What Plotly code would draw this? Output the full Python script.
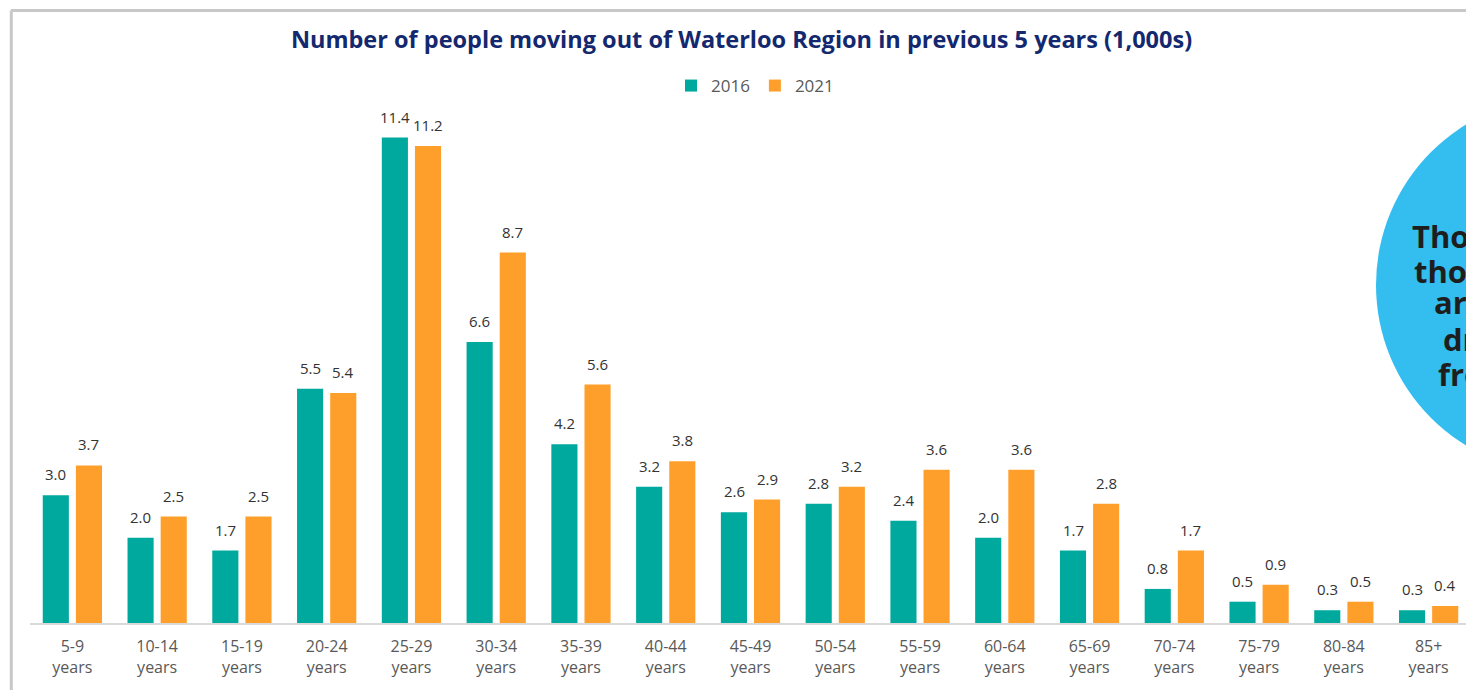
import plotly.graph_objects as go

categories = ["5-9<br>years", "10-14<br>years", "15-19<br>years", "20-24<br>years", "25-29<br>years",
              "30-34<br>years", "35-39<br>years", "40-44<br>years", "45-49<br>years", "50-54<br>years",
              "55-59<br>years", "60-64<br>years", "65-69<br>years", "70-74<br>years", "75-79<br>years",
              "80-84<br>years", "85+<br>years"]
values_2016 = [3.0, 2.0, 1.7, 5.5, 11.4, 6.6, 4.2, 3.2, 2.6, 2.8, 2.4, 2.0, 1.7, 0.8, 0.5, 0.3, 0.3]
values_2021 = [3.7, 2.5, 2.5, 5.4, 11.2, 8.7, 5.6, 3.8, 2.9, 3.2, 3.6, 3.6, 2.8, 1.7, 0.9, 0.5, 0.4]
callout_lines = ["Thos", "thos", "are", "dr", "fro"]

# page has an 8px body margin: work in figure pixel coordinates
W, H = 1466, 682
L, R, T, B = 22, 1463, 104, 615

def px(x):
    return (x - L) / (R - L)

def py(y):
    return (B - y) / (B - T)

FONT = "Open Sans"
TEAL = "#00A99D"
ORANGE = "#FF9F2B"

fig = go.Figure()
fig.add_trace(go.Bar(name="2016", x=categories, y=values_2016, marker_color=TEAL, marker_line_width=0))
fig.add_trace(go.Bar(name="2021", x=categories, y=values_2021, marker_color=ORANGE, marker_line_width=0))

fig.update_layout(
    width=W, height=H,
    margin=dict(l=L, r=W - R, t=T, b=H - B, autoexpand=False),
    paper_bgcolor="white", plot_bgcolor="white",
    barmode="group", bargap=0.218, bargroupgap=0.212,
    font=dict(family=FONT, color="#595959"),
    title=dict(text="<b>Number of people moving out of Waterloo Region in previous 5 years (1,000s)</b>",
               x=px(743), xanchor="center", y=1 - 32 / H, yanchor="middle",
               font=dict(size=23.5, color="#13286E", family=FONT)),
    legend=dict(orientation="h", x=px(747), xanchor="center", y=py(78), yanchor="middle",
                font=dict(size=17, color="#595959"), itemwidth=30, traceorder="normal"),
    showlegend=True,
    xaxis=dict(showline=True, linecolor="#D9D9D9", linewidth=2, ticks="",
               tickfont=dict(size=16, color="#595959"), showgrid=False, ticklabelstandoff=8),
    yaxis=dict(range=[0, 12], visible=False, showgrid=False, zeroline=False),
)

# data labels
for vals, shift in ((values_2016, -16.5), (values_2021, 16.5)):
    for c, v in zip(categories, vals):
        fig.add_annotation(x=c, y=v, xref="x", yref="y", text=f"{v:.1f}", showarrow=False,
                           xshift=shift, yshift=21, yanchor="middle", xanchor="center",
                           font=dict(size=15, color="#333333", family=FONT))

shapes = [
    dict(type="line", xref="paper", yref="paper", x0=px(3), x1=px(W), y0=py(2.5), y1=py(2.5),
         line=dict(color="#C8C8C8", width=3)),
    dict(type="line", xref="paper", yref="paper", x0=px(3.3), x1=px(3.3), y0=py(2.5), y1=py(H),
         line=dict(color="#C8C8C8", width=3)),
    dict(type="circle", xref="paper", yref="paper", x0=px(1368), x1=px(1744), y0=py(465), y1=py(89),
         fillcolor="#33BEEF", line=dict(width=0), layer="above"),
]
fig.update_layout(shapes=shapes)

callout_x = [1403, 1405, 1425, 1434, 1429]
callout_y = [228, 263, 294, 331, 366]
for t, x, y in zip(callout_lines, callout_x, callout_y):
    fig.add_annotation(xref="paper", yref="paper", x=px(x), y=py(y), xanchor="left", yanchor="middle",
                       showarrow=False, text=f"<b>{t}</b>", borderpad=0,
                       font=dict(size=31, color="#1E1E1E", family=FONT))

fig.write_html("out.html")
